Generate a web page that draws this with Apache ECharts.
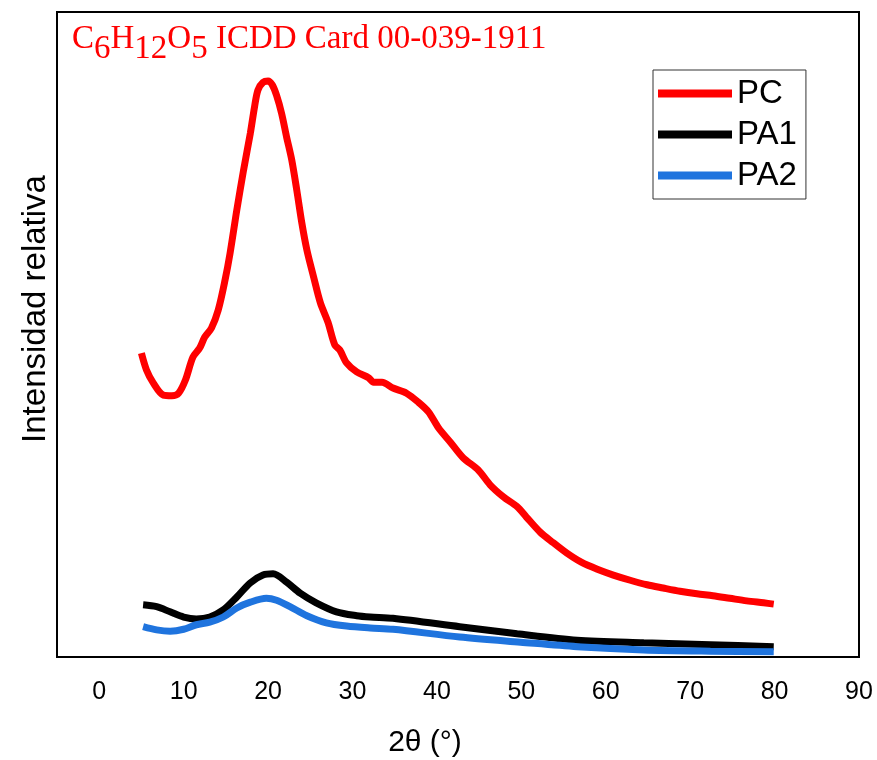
<!DOCTYPE html>
<html>
<head>
<meta charset="utf-8">
<script src="https://cdn.jsdelivr.net/npm/echarts@6/dist/echarts.min.js"></script>
<style>html,body{margin:0;padding:0;background:#fff;}#c{width:877px;height:760px;}</style>
</head>
<body>
<div id="c"></div>
<script>
// 2θ (°) positions and relative intensities
const pcX = [5.0,5.6,6.4,7.6,8.6,9.4,10.2,11.1,11.9,12.5,13.3,14.1,14.9,15.5,16.3,17.1,17.9,18.4,18.8,19.4,20.0,20.5,21.0,21.6,22.2,22.8,23.4,24.0,24.6,25.4,26.2,27.1,27.9,28.5,29.3,30.5,31.9,32.5,33.5,34.8,36.4,37.8,39.0,40.2,41.6,43.1,44.9,46.3,47.9,49.5,50.6,52.2,53.8,55.4,57.1,59.0,60.9,62.9,64.9,66.8,68.8,70.8,72.7,74.7,76.7,78.7,79.9];
const pcY = [47.1,44.5,42.5,40.6,40.5,40.9,42.9,46.5,47.9,49.6,51.0,53.8,58.4,62.6,69.3,75.5,81.2,85.3,87.9,89.1,89.3,88.7,87.1,84.3,80.6,77.1,72.4,67.3,63.1,58.9,54.9,51.9,48.4,47.6,45.6,44.2,43.3,42.6,42.6,41.7,40.9,39.5,38.0,35.5,33.3,30.9,29.0,26.7,24.8,23.3,21.7,19.4,17.7,16.1,14.7,13.6,12.7,11.9,11.2,10.7,10.2,9.8,9.5,9.1,8.7,8.4,8.2];
const pa1X = [5.2,6.8,8.4,10.0,11.5,13.1,14.7,16.3,17.9,19.4,20.6,22.2,23.8,25.7,28.1,30.5,32.1,34.8,42.7,49.5,56.6,64.5,72.4,79.9];
const pa1Y = [8.1,7.8,7.0,6.2,5.9,6.2,7.3,9.3,11.5,12.7,12.9,11.6,9.9,8.4,7.0,6.4,6.2,6.0,4.7,3.6,2.6,2.2,1.9,1.6];
const pa2X = [5.2,6.8,8.4,10.0,11.5,13.1,14.7,16.3,17.9,19.8,21.0,22.6,24.6,26.9,29.3,32.1,34.8,42.7,49.9,56.6,64.5,72.4,79.9];
const pa2Y = [4.7,4.2,4.0,4.3,5.0,5.4,6.2,7.6,8.5,9.1,8.8,7.8,6.4,5.3,4.8,4.5,4.3,3.1,2.3,1.6,1.1,0.9,0.8];
const seriesNames = ['PC','PA1','PA2'];
const xTickLabels = [0,10,20,30,40,50,60,70,80,90];

const pair = (xs, ys) => xs.map((x, i) => [x, ys[i]]);
const colors = ['#ff0000', '#000000', '#1f74de'];
const datasets = [pair(pcX, pcY), pair(pa1X, pa1Y), pair(pa2X, pa2Y)];

const chart = echarts.init(document.getElementById('c'), null, {renderer: 'canvas'});
const sans = '"Liberation Sans", Arial, sans-serif';
const serif = '"Liberation Serif", "Times New Roman", serif';
chart.setOption({
  animation: false,
  backgroundColor: '#fff',
  title: {
    text: '{n|C}{s|6}{n|H}{s|12}{n|O}{s|5}{n| ICDD Card 00-039-1911}',
    left: 67, top: 18,
    textStyle: {
      fontWeight: 'normal',
      rich: {
        n: {fontFamily: serif, fontWeight: 'normal', fontSize: 33, color: '#ff0000', lineHeight: 33, verticalAlign: 'top'},
        s: {fontFamily: serif, fontWeight: 'normal', fontSize: 33, color: '#ff0000', lineHeight: 33, verticalAlign: 'top', padding: [10, 0, 0, 0]}
      }
    }
  },
  legend: {
    data: seriesNames,
    orient: 'vertical',
    left: 653, top: 70,
    padding: [7, 9, 7, 5],
    itemGap: 8,
    itemWidth: 74, itemHeight: 8,
    itemTextGap: 14,
    icon: 'rect',
    borderColor: '#333', borderWidth: 1,
    textStyle: {fontFamily: sans, fontSize: 33, color: '#000', lineHeight: 33}
  },
  grid: {left: 57, right: 18, top: 12, bottom: 103, show: true, borderColor: '#000', borderWidth: 2, backgroundColor: 'transparent'},
  xAxis: {
    type: 'value', min: -5, max: 90, interval: 5,
    axisLine: {show: false}, axisTick: {show: false}, splitLine: {show: false},
    axisLabel: {
      margin: 23, fontFamily: sans, fontSize: 25, color: '#000',
      formatter: v => xTickLabels.indexOf(v) >= 0 ? String(v) : ''
    }
  },
  yAxis: {
    type: 'value', min: 0, max: 100,
    axisLine: {show: false}, axisTick: {show: false}, splitLine: {show: false}, axisLabel: {show: false}
  },
  graphic: [
    {type: 'text', x: 425, y: 743, style: {text: '2θ (°)', font: '30px "Liberation Sans", Arial, sans-serif', fill: '#000', align: 'center', verticalAlign: 'middle'}},
    {type: 'text', x: 36, y: 309, rotation: Math.PI / 2, style: {text: 'Intensidad relativa', font: '33px "Liberation Sans", Arial, sans-serif', fill: '#000', align: 'center', verticalAlign: 'middle'}}
  ],
  series: seriesNames.map((name, i) => ({
    name, type: 'line', data: datasets[i], showSymbol: false, smooth: 0.3,
    lineStyle: {color: colors[i], width: 7}, itemStyle: {color: colors[i]}
  }))
});
</script>
</body>
</html>
